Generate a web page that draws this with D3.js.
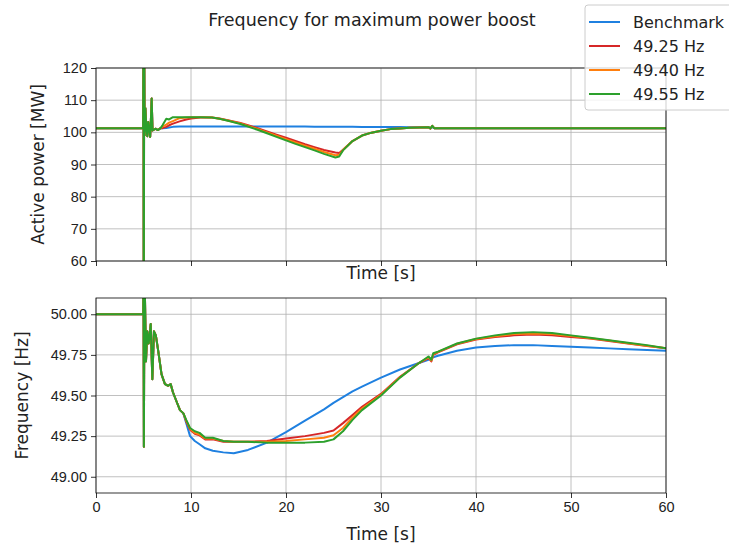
<!DOCTYPE html>
<html lang="en">
<head>
<meta charset="UTF-8">
<title>Frequency for maximum power boost</title>
<script src="https://cdn.jsdelivr.net/npm/d3@7"></script>
<style>
  body { margin: 0; background: #fff; }
  svg { font-family: "DejaVu Sans", sans-serif; }
  .grid line { stroke: #b0b0b0; stroke-width: 0.8; }
  .axis path, .axis line { stroke: #000; stroke-width: 0.8; }
  .axis text { font-size: 14.5px; fill: #222; }
</style>
</head>
<body>
<svg id="chart" width="729" height="544"></svg>
<script>
// series names and colours
const seriesNames = ["Benchmark", "49.25 Hz", "49.40 Hz", "49.55 Hz"];
const seriesColors = ["#1f80e0", "#d62728", "#ff7f0e", "#2ca02c"];

// transient common to all runs (t < 7 s)
const timeEarlyP = [0, 4.9, 4.96, 5.0, 5.03, 5.07, 5.12, 5.2, 5.3, 5.4, 5.5, 5.6, 5.7, 5.78, 5.86, 5.95, 6.1, 6.3, 6.5, 6.8];
const powerEarly = [101.3, 101.3, 101.3, 135, 30, 130, 99.1, 107.5, 101.5, 98.8, 103.2, 101, 98.6, 104, 110.5, 100.6, 100.9, 101.1, 100.7, 101.3];

const timeLateP = [7.0, 7.4, 7.7, 8.1, 8.8, 9.5, 10, 11, 12.2, 13, 14, 15.2, 16, 17, 18, 19, 20, 21, 22, 23, 24, 25.2, 25.6, 26, 27, 28, 29, 30, 31, 32, 33, 34, 35, 35.2, 35.4, 35.6, 36, 40, 45, 50, 55, 60];
const powerBench = [101.3, 101.35, 101.5, 101.7, 101.8, 101.8, 101.8, 101.8, 101.8, 101.8, 101.8, 101.8, 101.8, 101.8, 101.8, 101.8, 101.8, 101.8, 101.78, 101.76, 101.75, 101.74, 101.73, 101.72, 101.7, 101.68, 101.66, 101.65, 101.64, 101.62, 101.61, 101.6, 101.6, 101.4, 101.6, 101.3, 101.3, 101.3, 101.3, 101.3, 101.3, 101.3];
const power4925 = [101.3, 101.7, 102.2, 102.7, 103.4, 104.0, 104.3, 104.6, 104.6, 104.3, 103.7, 102.9, 102.2, 101.3, 100.3, 99.3, 98.3, 97.3, 96.3, 95.4, 94.5, 93.7, 93.6, 94.6, 97.3, 99.0, 99.9, 100.5, 101.0, 101.2, 101.4, 101.5, 101.6, 101.1, 102.0, 101.3, 101.3, 101.3, 101.3, 101.3, 101.3, 101.3];
const power4940 = [101.8, 102.4, 103.0, 103.5, 104.4, 104.6, 104.7, 104.7, 104.6, 104.25, 103.6, 102.75, 102.0, 101.05, 100.0, 98.95, 97.9, 96.85, 95.85, 94.9, 93.9, 92.9, 93.0, 94.5, 97.3, 99.0, 99.9, 100.5, 101.0, 101.2, 101.4, 101.5, 101.6, 101.2, 102.0, 101.3, 101.3, 101.3, 101.3, 101.3, 101.3, 101.3];
const power4955 = [102.2, 104.2, 104.0, 104.7, 104.7, 104.7, 104.7, 104.7, 104.6, 104.2, 103.5, 102.6, 101.8, 100.8, 99.7, 98.6, 97.5, 96.4, 95.4, 94.4, 93.3, 92.2, 92.5, 94.4, 97.3, 99.0, 99.9, 100.5, 101.0, 101.2, 101.4, 101.5, 101.6, 101.2, 102.0, 101.3, 101.3, 101.3, 101.3, 101.3, 101.3, 101.3];

const timeEarlyF = [0, 4.9, 4.97, 5.0, 5.04, 5.1, 5.26, 5.4, 5.55, 5.76, 5.93, 6.1, 6.3, 6.56, 6.9, 7.26, 7.6, 7.86, 8.1, 8.5, 8.84, 9.2];
const freqEarly = [50, 50, 50, 50.3, 49.185, 50.3, 49.71, 49.895, 49.82, 49.94, 49.60, 49.895, 49.87, 49.77, 49.63, 49.57, 49.56, 49.57, 49.52, 49.46, 49.41, 49.39];

const timeLateF = [9.5, 9.9, 10.4, 10.9, 11.5, 12.3, 13.4, 14.5, 16, 18, 20, 22, 24, 25, 26, 27, 28, 30, 32, 34, 35, 35.3, 35.5, 36, 38, 40, 42, 44, 46, 48, 50, 52, 54, 56, 58, 60];
const freqBench = [49.33, 49.25, 49.22, 49.20, 49.175, 49.16, 49.15, 49.145, 49.165, 49.21, 49.275, 49.345, 49.415, 49.455, 49.49, 49.525, 49.555, 49.61, 49.66, 49.70, 49.72, 49.73, 49.735, 49.745, 49.775, 49.795, 49.805, 49.81, 49.81, 49.805, 49.80, 49.795, 49.79, 49.785, 49.78, 49.775];
const freq4925 = [49.34, 49.29, 49.265, 49.255, 49.23, 49.23, 49.215, 49.215, 49.215, 49.22, 49.235, 49.25, 49.27, 49.285, 49.33, 49.38, 49.43, 49.51, 49.615, 49.70, 49.73, 49.71, 49.75, 49.765, 49.815, 49.845, 49.86, 49.87, 49.875, 49.87, 49.86, 49.85, 49.835, 49.82, 49.805, 49.79];
const freq4940 = [49.345, 49.295, 49.27, 49.26, 49.235, 49.235, 49.22, 49.215, 49.215, 49.215, 49.22, 49.23, 49.24, 49.255, 49.30, 49.365, 49.42, 49.505, 49.612, 49.70, 49.735, 49.715, 49.755, 49.768, 49.818, 49.848, 49.865, 49.878, 49.882, 49.878, 49.866, 49.852, 49.838, 49.822, 49.806, 49.79];
const freq4955 = [49.35, 49.30, 49.28, 49.27, 49.24, 49.24, 49.22, 49.215, 49.215, 49.21, 49.21, 49.21, 49.215, 49.23, 49.28, 49.35, 49.41, 49.50, 49.61, 49.70, 49.74, 49.72, 49.76, 49.77, 49.82, 49.85, 49.87, 49.885, 49.89, 49.885, 49.87, 49.855, 49.84, 49.825, 49.81, 49.79];

const timeTicks = [0, 10, 20, 30, 40, 50, 60];
const powerTicks = [60, 70, 80, 90, 100, 110, 120];
const freqTicks = [49.0, 49.25, 49.5, 49.75, 50.0];

const powerLate = [powerBench, power4925, power4940, power4955];
const freqLate = [freqBench, freq4925, freq4940, freq4955];

function joinSeries(tA, vA, tB, vB) {
    const pts = tA.map((t, i) => [t, vA[i]]);
    return pts.concat(tB.map((t, i) => [t, vB[i]]));
}

const svg = d3.select('#chart');
const left = 96, right = 666;

const x = d3.scaleLinear().domain([0, 60]).range([left, right]);

function drawPanel(id, top, bottom, yDomain, yTicks, yFormat, data, yLabel, yLabelX) {
    const y = d3.scaleLinear().domain(yDomain).range([bottom, top]);
    const g = svg.append('g');

    g.append('clipPath').attr('id', 'clip' + id)
        .append('rect').attr('x', left).attr('y', top)
        .attr('width', right - left).attr('height', bottom - top);

    // grid
    g.append('g').attr('class', 'grid')
        .selectAll('line.v').data(timeTicks).enter().append('line')
        .attr('x1', d => x(d)).attr('x2', d => x(d))
        .attr('y1', top).attr('y2', bottom);
    g.append('g').attr('class', 'grid')
        .selectAll('line.h').data(yTicks).enter().append('line')
        .attr('x1', left).attr('x2', right)
        .attr('y1', d => y(d)).attr('y2', d => y(d));

    const line = d3.line().x(d => x(d[0])).y(d => y(d[1]));

    g.append('g').attr('clip-path', 'url(#clip' + id + ')')
        .selectAll('path').data(data).enter().append('path')
        .attr('fill', 'none')
        .attr('stroke', (d, i) => seriesColors[i])
        .attr('stroke-width', 2)
        .attr('stroke-linejoin', 'round')
        .attr('d', d => line(d));

    // frame
    g.append('rect').attr('x', left).attr('y', top)
        .attr('width', right - left).attr('height', bottom - top)
        .attr('fill', 'none').attr('stroke', '#000').attr('stroke-width', 0.8);

    const xAxis = d3.axisBottom(x).tickValues(timeTicks).tickSize(5).tickPadding(4);
    const gx = g.append('g').attr('class', 'axis')
        .attr('transform', 'translate(0,' + bottom + ')')
        .call(xAxis);
    gx.select('.domain').remove();
    if (id === 'top') gx.selectAll('text').remove();

    const yAxis = d3.axisLeft(y).tickValues(yTicks).tickFormat(yFormat).tickSize(5).tickPadding(4);
    const gy = g.append('g').attr('class', 'axis')
        .attr('transform', 'translate(' + left + ',0)')
        .call(yAxis);
    gy.select('.domain').remove();

    g.append('text')
        .attr('transform', 'translate(' + yLabelX + ',' + ((top + bottom) / 2) + ') rotate(-90)')
        .attr('text-anchor', 'middle')
        .attr('font-size', 17).attr('fill', '#222')
        .text(yLabel);

    g.append('text')
        .attr('x', (left + right) / 2)
        .attr('y', id === 'top' ? bottom + 18 : bottom + 47)
        .attr('text-anchor', 'middle')
        .attr('font-size', 17).attr('fill', '#222')
        .text('Time [s]');
}

const powerData = powerLate.map(v => joinSeries(timeEarlyP, powerEarly, timeLateP, v));
const freqData = freqLate.map(v => joinSeries(timeEarlyF, freqEarly, timeLateF, v));

drawPanel('top', 68, 261, [60, 120], powerTicks, d3.format('d'), powerData, 'Active power [MW]', 44);
drawPanel('bottom', 298, 493, [48.9, 50.1], freqTicks, d3.format('.2f'), freqData, 'Frequency [Hz]', 28);

// title
svg.append('text')
    .attr('x', 372).attr('y', 26)
    .attr('text-anchor', 'middle')
    .attr('font-size', 17.5).attr('fill', '#222')
    .text('Frequency for maximum power boost');

// legend
const legend = svg.append('g');
legend.append('rect')
    .attr('x', 585).attr('y', 5).attr('width', 160).attr('height', 105)
    .attr('rx', 3)
    .attr('fill', '#fff').attr('fill-opacity', 0.8)
    .attr('stroke', '#ccc').attr('stroke-width', 1);
const items = legend.selectAll('g.item').data(seriesNames).enter().append('g')
    .attr('transform', (d, i) => 'translate(0,' + (22 + i * 24) + ')');
items.append('line')
    .attr('x1', 589).attr('x2', 620).attr('y1', 0).attr('y2', 0)
    .attr('stroke', (d, i) => seriesColors[i]).attr('stroke-width', 2);
items.append('text')
    .attr('x', 633).attr('y', 5.5)
    .attr('font-size', 16).attr('fill', '#222')
    .text(d => d);
</script>
</body>
</html>
